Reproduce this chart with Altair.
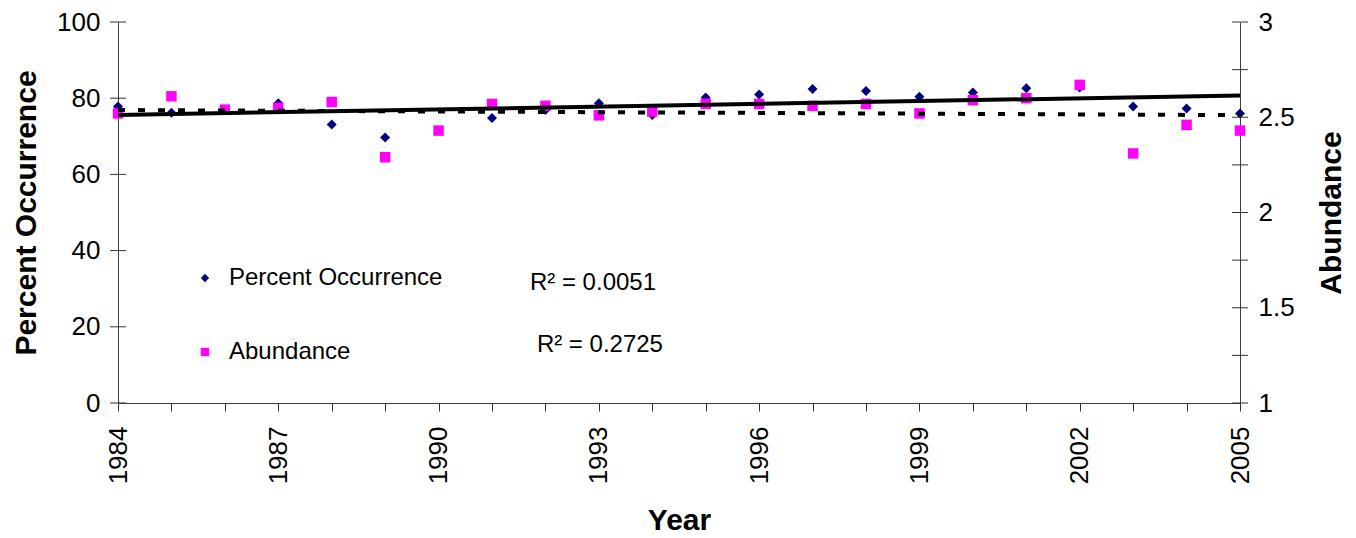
import altair as alt
import pandas as pd

years = list(range(1984, 2006))
percent_occurrence = [77.8, 76.2, 77.0, 78.7, 73.1, 69.7, None, 74.8, 76.9, 78.7, 75.6,
                      80.2, 81.0, 82.4, 81.9, 80.4, 81.5, 82.6, 82.8, 77.8, 77.3, 76.0]
abundance = [2.52, 2.61, 2.54, 2.55, 2.58, 2.29, 2.43, 2.57, 2.56, 2.51, 2.53,
             2.57, 2.57, 2.56, 2.57, 2.52, 2.59, 2.60, 2.67, 2.31, 2.46, 2.43]
series_names = ["Percent Occurrence", "Abundance"]
series_colors = ["#000080", "#FF00FF"]
series_shapes = ["diamond", "square"]

left_ticks = [0, 20, 40, 60, 80, 100]
right_ticks = [1, 1.25, 1.5, 1.75, 2, 2.25, 2.5, 2.75, 3]
right_labels = [1, 1.5, 2, 2.5, 3]

r2_text = ["R\u00b2 = 0.0051", "R\u00b2 = 0.2725"]
r2_year = [1991.71, 1991.84]
r2_value = [31.5, 15.2]

FONT = "Liberation Sans"
W, H = 1122, 381

pct_df = pd.DataFrame({"year": years, "value": percent_occurrence,
                       "series": series_names[0]}).dropna()
abd_df = pd.DataFrame({"year": years, "value": abundance, "series": series_names[1]})
lt_df = pd.DataFrame({"t": left_ticks})
rt_df = pd.DataFrame({"t": right_ticks})
txt_df = pd.DataFrame({"label": r2_text, "year": r2_year, "value": r2_value})

xscale = alt.Scale(domain=[1984, 2005], nice=False, zero=False)
lscale = alt.Scale(domain=[0, 100], nice=False, zero=False)
rscale = alt.Scale(domain=[1, 3], nice=False, zero=False)

x_axis = alt.Axis(title="Year", values=years,
                  labelExpr="(datum.value - 1984) % 3 == 0 ? format(datum.value, 'd') : ''",
                  labelAngle=270, labelAlign="right", labelBaseline="middle",
                  labelFlush=False, labelOverlap=False,
                  tickSize=8, labelPadding=15, titlePadding=22, grid=False)
X = alt.X("year:Q", scale=xscale, axis=x_axis)

legend = alt.Legend(orient="none", legendX=75, legendY=244, title=None,
                    labelFontSize=24, labelFont=FONT, labelColor="black", labelLimit=400,
                    rowPadding=50, symbolSize=70, labelOffset=12, padding=0,
                    symbolStrokeWidth=0)
color = alt.Color("series:N", scale=alt.Scale(domain=series_names, range=series_colors),
                  legend=legend)
shape = alt.Shape("series:N", scale=alt.Scale(domain=series_names, range=series_shapes),
                  legend=legend)

pct_points = alt.Chart(pct_df).mark_point(filled=True, opacity=1, size=100).encode(
    x=X,
    y=alt.Y("value:Q", scale=lscale,
            axis=alt.Axis(title="Percent Occurrence", values=left_ticks, orient="left",
                          tickSize=8, tickOpacity=0, labelPadding=10, labelOverlap=False,
                          labelFlush=False,
                          titleAngle=270, titleBaseline="bottom", titlePadding=15, grid=False)),
    color=color, shape=shape)

abd_points = alt.Chart(abd_df).mark_point(filled=True, opacity=1, size=110).encode(
    x=X,
    y=alt.Y("value:Q", scale=rscale,
            axis=alt.Axis(title="Abundance", values=right_labels, orient="right",
                          format="~g", tickSize=8, tickOpacity=0, labelPadding=10,
                          labelOverlap=False, labelFlush=False,
                          titleAngle=270, titleBaseline="top", titlePadding=22, grid=False)),
    color=color, shape=shape)

pct_trend = alt.Chart(pct_df).transform_regression("year", "value").mark_line(
    color="black", strokeWidth=4).encode(
    x=X, y=alt.Y("value:Q", scale=lscale, axis=None))

abd_trend = alt.Chart(abd_df).transform_regression("year", "value").mark_line(
    color="black", strokeWidth=4, strokeDash=[7, 13]).encode(
    x=X, y=alt.Y("value:Q", scale=rscale, axis=None))

left_tick_rules = alt.Chart(lt_df).mark_rule(color="#333333", strokeWidth=1).encode(
    x=alt.value(-8), x2=alt.value(8), y=alt.Y("t:Q", scale=lscale, axis=None))

right_tick_rules = alt.Chart(rt_df).mark_rule(color="#333333", strokeWidth=1).encode(
    x=alt.value(W - 8), x2=alt.value(W + 8), y=alt.Y("t:Q", scale=rscale, axis=None))

r2_labels = alt.Chart(txt_df).mark_text(align="left", baseline="middle", fontSize=24,
                                        font=FONT, color="black").encode(
    x=X, y=alt.Y("value:Q", scale=lscale, axis=None), text="label:N")

chart = alt.layer(
    pct_points, abd_points, pct_trend, abd_trend, left_tick_rules, right_tick_rules, r2_labels
).resolve_scale(y="independent").properties(
    width=W, height=H,
    autosize=alt.AutoSizeParams(type="none"),
    padding={"left": 110, "top": 14, "right": 108, "bottom": 135},
).configure_view(stroke=None).configure_axis(
    labelFont=FONT, titleFont=FONT, labelFontSize=26, titleFontSize=30,
    titleFontWeight="bold", labelColor="black", titleColor="black",
    domainColor="#404040", tickColor="#333333", domainWidth=1, tickWidth=1,
)

chart.save("out.html", embed_options={"renderer": "svg", "actions": False})
